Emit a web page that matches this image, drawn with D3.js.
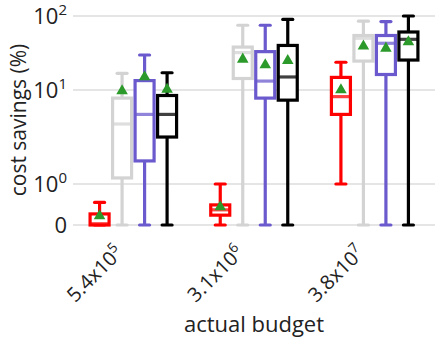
<!DOCTYPE html>
<html><head><meta charset="utf-8">
<script src="https://cdn.jsdelivr.net/npm/d3@7"></script>
<style>body{margin:0;background:#fff}svg{display:block}</style>
</head><body><div id="chart"></div>
<script>
// ---- data ----
const catBase = ["5.4x10", "3.1x10", "3.8x10"];
const catExp = ["5", "6", "7"];
const seriesNames = ["s1", "s2", "s3", "s4"];
const seriesColors = ["#ff0000", "#d3d3d3", "#6a5acd", "#000000"];
// [low whisker, q1, median, q3, high whisker] per category
const statsS1 = [[0, 0, 0.03, 0.27, 0.55], [0, 0.24, 0.37, 0.49, 1.0], [1.0, 5.5, 8.5, 14.8, 23.7]];
const statsS2 = [[0, 1.16, 4.35, 8.2, 16.8], [0, 14.3, 32, 38, 75], [0, 24.6, 50, 54.5, 85]];
const statsS3 = [[0, 1.76, 5.5, 13.4, 29.7], [0, 8.2, 13.2, 33, 75], [0, 16.2, 42.8, 54.5, 84]];
const statsS4 = [[0, 3.16, 5.5, 8.74, 17.1], [0, 7.8, 15, 40, 90], [0, 25.4, 48.4, 60.8, 100]];
const meansS1 = [0.22, 0.44, 10];
const meansS2 = [9.8, 26, 39];
const meansS3 = [15, 21.8, 36.6];
const meansS4 = [10.2, 24.9, 44.5];
const yTickVals = [0, 1, 10, 100];
const yTickBase = ["0", "10", "10", "10"];
const yTickExp = ["", "0", "1", "2"];

const allStats = [statsS1, statsS2, statsS3, statsS4];
const allMeans = [meansS1, meansS2, meansS3, meansS4];

const W = 440, H = 345;
const FONT = "'Open Sans', Lato, sans-serif";
const svg = d3.select("#chart").append("svg").attr("width", W).attr("height", H);

// symlog-like transform: linear below 1, log decades above
const tf = v => v <= 1 ? v : 1 + Math.log10(v);
const yLin = d3.scaleLinear().domain([0, 1, 2, 3]).range([225, 184, 90, 16]);
const y = v => yLin(tf(v));

const x = d3.scaleBand().domain(d3.range(catBase.length)).range([73, 435]).paddingInner(0).paddingOuter(0);
const xs = d3.scaleBand().domain(seriesNames).range([-45, 45]);

// gridlines
svg.append("g").selectAll("line").data(yTickVals).join("line")
  .attr("x1", 73).attr("x2", 435)
  .attr("y1", d => y(d)).attr("y2", d => y(d))
  .attr("stroke", "#dcdcdc").attr("stroke-width", 1.3);

// y tick labels
const yt = svg.append("g").selectAll("text").data(yTickVals).join("text")
  .attr("x", 67).attr("y", d => y(d) + 8)
  .attr("text-anchor", "end")
  .attr("font-family", FONT).attr("font-size", 22).attr("fill", "#222");
yt.each(function(d, i) {
  const t = d3.select(this);
  if (yTickExp[i] === "") { t.text(yTickBase[i]); return; }
  t.append("tspan").text(yTickBase[i]);
  t.append("tspan").attr("dy", -9).attr("font-size", 15).text(yTickExp[i]);
});

// y label
svg.append("text")
  .attr("transform", "translate(26,120) rotate(-90)")
  .attr("text-anchor", "middle")
  .attr("font-family", FONT).attr("font-size", 21).attr("fill", "#222")
  .text("cost savings (%)");

// x tick labels
const xt = svg.append("g").selectAll("text").data(d3.range(catBase.length)).join("text")
  .attr("transform", d => `translate(${x(d) + x.bandwidth() / 2 - 9},${254}) rotate(-45)`)
  .attr("text-anchor", "end")
  .attr("font-family", FONT).attr("font-size", 20).attr("fill", "#222");
xt.each(function(d) {
  const t = d3.select(this);
  t.append("tspan").text(catBase[d]);
  t.append("tspan").attr("dy", -8).attr("font-size", 14).text(catExp[d]);
});

// x label
svg.append("text")
  .attr("x", 254).attr("y", 332)
  .attr("text-anchor", "middle")
  .attr("font-family", FONT).attr("font-size", 22).attr("fill", "#222")
  .text("actual budget");

// boxes
const bw = 19, sw = 3.2, capHalf = 5;
seriesNames.forEach((s, si) => {
  const col = seriesColors[si];
  const g = svg.append("g");
  allStats[si].forEach((st, ci) => {
    const cx = x(ci) + x.bandwidth() / 2 + xs(s) + xs.bandwidth() / 2;
    const [lo, q1, med, q3, hi] = st;
    g.append("line").attr("x1", cx).attr("x2", cx).attr("y1", y(lo)).attr("y2", y(q1))
      .attr("stroke", col).attr("stroke-width", sw);
    g.append("line").attr("x1", cx).attr("x2", cx).attr("y1", y(q3)).attr("y2", y(hi))
      .attr("stroke", col).attr("stroke-width", sw);
    [lo, hi].forEach(v => {
      g.append("line").attr("x1", cx - capHalf).attr("x2", cx + capHalf)
        .attr("y1", y(v)).attr("y2", y(v))
        .attr("stroke", col).attr("stroke-width", sw).attr("stroke-linecap", "round");
    });
    g.append("rect").attr("x", cx - bw / 2).attr("width", bw)
      .attr("y", y(q3)).attr("height", Math.max(0, y(q1) - y(q3)))
      .attr("fill", "#fff").attr("stroke", col).attr("stroke-width", sw);
    g.append("line").attr("x1", cx - bw / 2).attr("x2", cx + bw / 2)
      .attr("y1", y(med)).attr("y2", y(med))
      .attr("stroke", col).attr("stroke-opacity", 0.75).attr("stroke-width", sw);
  });
});

// means
const tri = d3.symbol().type(d3.symbolTriangle).size(58);
seriesNames.forEach((s, si) => {
  svg.append("g").selectAll("path").data(allMeans[si]).join("path")
    .attr("d", tri)
    .attr("transform", (d, ci) => `translate(${x(ci) + x.bandwidth() / 2 + xs(s) + xs.bandwidth() / 2},${y(d)})`)
    .attr("fill", "#2b9a2b");
});
</script></body></html>
